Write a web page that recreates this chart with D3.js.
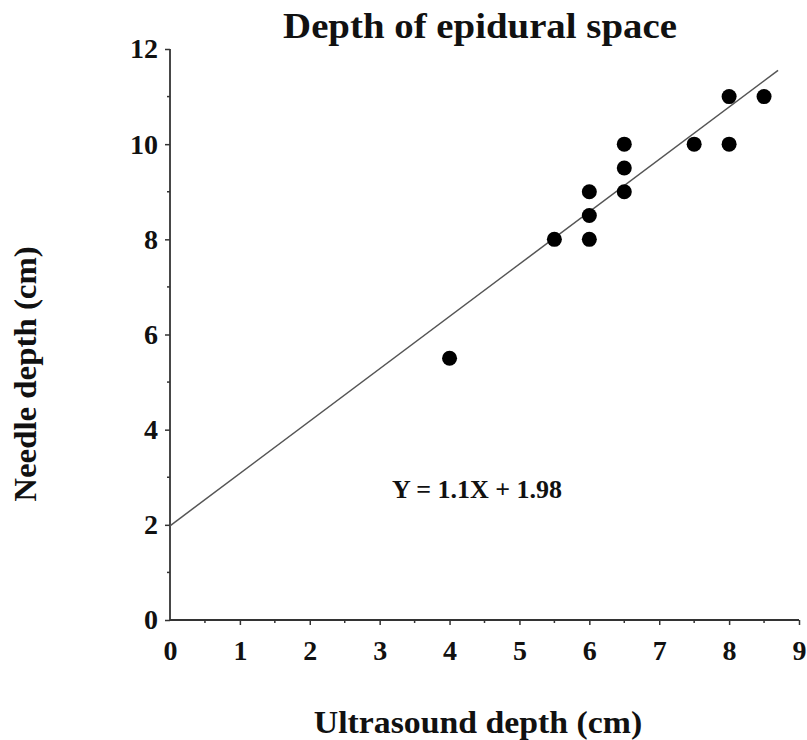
<!DOCTYPE html>
<html>
<head>
<meta charset="utf-8">
<script src="https://cdn.jsdelivr.net/npm/d3@7"></script>
<style>
  body { margin: 0; background: #fff; }
  text { font-family: 'Liberation Serif', 'Times New Roman', serif; font-weight: bold; fill: #111; }
</style>
</head>
<body>
<svg id="chart" width="807" height="740"></svg>
<script>
// ultrasound depth (cm) vs needle depth (cm)
const ultrasound = [4, 5.5, 6, 6, 6, 6.5, 6.5, 6.5, 7.5, 8, 8, 8.5]
const needle = [5.5, 8, 8, 8.5, 9, 9, 9.5, 10, 10, 10, 11, 11]
const slope = 1.1
const intercept = 1.98
const fitRange = [0, 8.7]
const xTicks = [0, 1, 2, 3, 4, 5, 6, 7, 8, 9]
const yTicks = [0, 2, 4, 6, 8, 10, 12]

const svg = d3.select('#chart')
const x = d3.scaleLinear().domain([0, 9]).range([170, 799])
const y = d3.scaleLinear().domain([0, 12]).range([620, 49])
const axisColor = '#333'

// axes
const gx = svg.append('g').attr('transform', `translate(0,${y(0)})`)
gx.call(d3.axisBottom(x).tickValues(xTicks).tickSize(5).tickPadding(15).tickFormat(d3.format('d')))
gx.selectAll('.tick').filter(d => d === 0).select('line').remove()
gx.selectAll('.tick text').attr('font-size', 28).attr('font-family', null)
gx.append('g').selectAll('line')
  .data(d3.range(0.5, 9, 1))
  .join('line')
  .attr('x1', d => x(d)).attr('x2', d => x(d))
  .attr('y1', 0).attr('y2', 3)

const gy = svg.append('g').attr('transform', `translate(${x(0)},0)`)
gy.call(d3.axisLeft(y).tickValues(yTicks).tickSize(5).tickPadding(7).tickFormat(d3.format('d')))
gy.selectAll('.tick text').attr('font-size', 28).attr('font-family', null)
gy.append('g').selectAll('line')
  .data(d3.range(1, 12, 2))
  .join('line')
  .attr('x1', 0).attr('x2', -3)
  .attr('y1', d => y(d)).attr('y2', d => y(d))

svg.selectAll('.domain').attr('stroke', axisColor).attr('stroke-width', 1.8)
svg.selectAll('.tick line, g g line').attr('stroke', axisColor).attr('stroke-width', 1.5)
gx.select('.domain').attr('d', `M${x(0)},0H${x(9)}`)
gy.select('.domain').attr('d', `M0,${y(12)}V${y(0)}`)

// regression line
svg.append('line')
  .attr('x1', x(fitRange[0])).attr('y1', y(slope * fitRange[0] + intercept))
  .attr('x2', x(fitRange[1])).attr('y2', y(slope * fitRange[1] + intercept))
  .attr('stroke', '#555').attr('stroke-width', 1.5)

// points
svg.append('g').selectAll('circle')
  .data(ultrasound.map((u, i) => [u, needle[i]]))
  .join('circle')
  .attr('cx', d => x(d[0]))
  .attr('cy', d => y(d[1]))
  .attr('r', 7.5)
  .attr('fill', '#000')

// texts
svg.append('text')
  .attr('transform', 'translate(480,38) scale(1.11,1)')
  .attr('text-anchor', 'middle').attr('font-size', 35)
  .text('Depth of epidural space')

svg.append('text')
  .attr('x', 477).attr('y', 498)
  .attr('text-anchor', 'middle').attr('font-size', 26)
  .text('Y = 1.1X + 1.98')

svg.append('text')
  .attr('transform', 'translate(478,733) scale(1.09,1)')
  .attr('text-anchor', 'middle').attr('font-size', 31)
  .text('Ultrasound depth (cm)')

svg.append('text')
  .attr('transform', 'translate(36,374) rotate(-90) scale(1.06,1)')
  .attr('text-anchor', 'middle').attr('font-size', 31)
  .text('Needle depth (cm)')
</script>
</body>
</html>
